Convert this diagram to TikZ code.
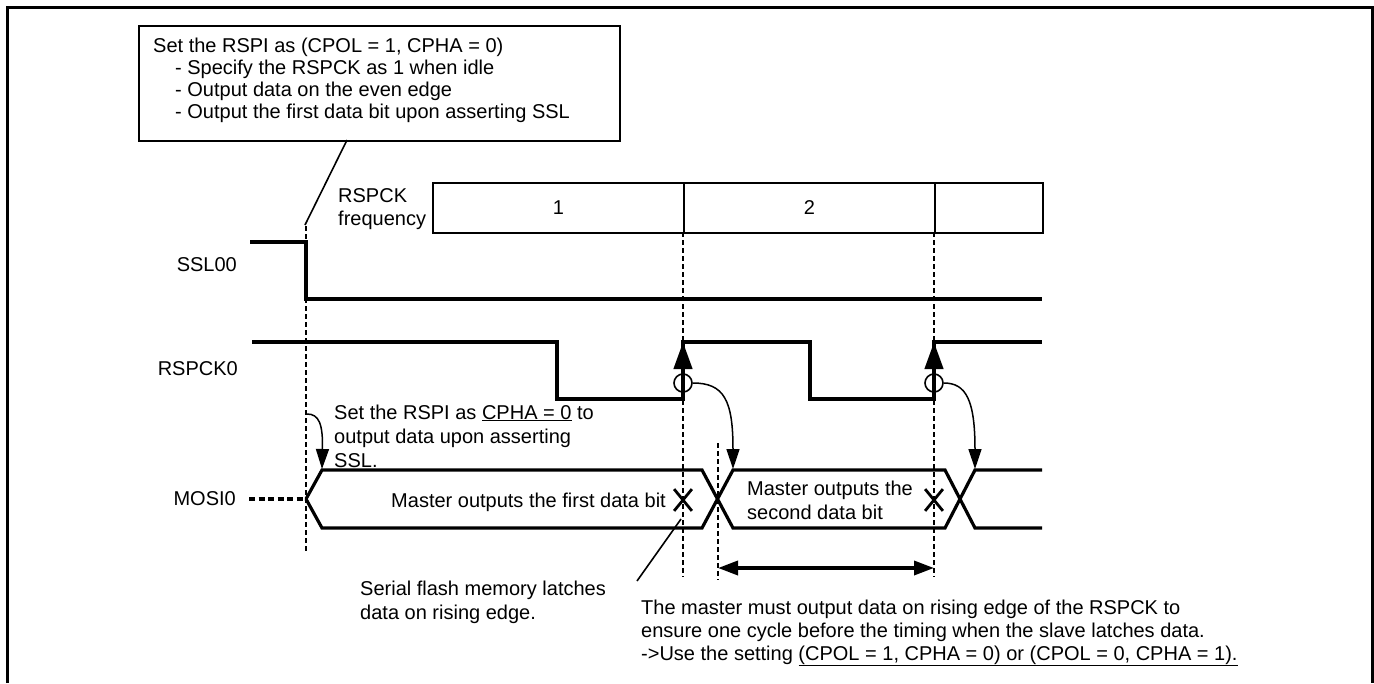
\documentclass[tikz,border=0pt]{standalone}
\usepackage{fontspec}
\setmainfont{Liberation Sans}
\usetikzlibrary{arrows.meta,shapes.misc}
\begin{document}
\begin{tikzpicture}[x=1pt,y=-1pt,
  txt/.style={inner sep=0pt, font=\fontsize{20pt}{24pt}\selectfont},
  sigline/.style={line width=3.2pt, line join=miter},
  fineline/.style={line width=1.6pt},
  guideline/.style={line width=1.5pt, dash pattern=on 5pt off 3pt},
  mosidash/.style={line width=3.2pt, dash pattern=on 6pt off 3.5pt},
  edgearrow/.style={line width=4.2pt, -{Triangle[length=27pt,width=18pt]}},
  callarrow/.style={line width=1.5pt, -{Triangle[length=20pt,width=13pt]}},
  spanarrow/.style={line width=3.5pt, {Triangle[length=20pt,width=14pt]}-{Triangle[length=20pt,width=14pt]}},
  xmark/.style={cross out, draw, line width=2.8pt, minimum width=15pt, minimum height=19pt, inner sep=0pt},
  ring/.style={circle, draw, line width=1.6pt, minimum size=18pt, inner sep=0pt},
  segbox/.style={draw, line width=1.7pt, minimum height=50pt, inner sep=0pt, anchor=north west, font=\fontsize{20pt}{24pt}\selectfont}
]
\useasboundingbox (0,0) rectangle (1374,683);

% outer frame (open at the bottom)
\draw[line width=3pt] (7,683) -- (7,7) -- (1372,7) -- (1372,683);

% configuration note
\node[draw, line width=1.7pt, minimum width=481pt, minimum height=115pt, anchor=north west, inner sep=0pt] (cfg) at (138,25) {};
\node[txt, anchor=base west] (cfgA) at (153,52) {Set the RSPI as (CPOL = 1, CPHA = 0)};
\node[txt, anchor=base west] (cfgB) at (175,74) {- Specify the RSPCK as 1 when idle};
\node[txt, anchor=base west] (cfgC) at (175,96) {- Output data on the even edge};
\node[txt, anchor=base west] (cfgD) at (175,118) {- Output the first data bit upon asserting SSL};
\coordinate (cfgfoot) at (347,140);
\coordinate (sslmark) at (305,225);
\draw[fineline] (cfgfoot) -- (sslmark);

% clock period boxes
\node[txt, anchor=base west] (fqa) at (338,202) {RSPCK};
\node[txt, anchor=base west] (fqb) at (338,225) {frequency};
\node[segbox, minimum width=251pt] (f1) at (432,182) {1};
\node[segbox, minimum width=251pt] (f2) at (683,182) {2};
\node[segbox, minimum width=108pt] (f3) at (934,182) {};

% signal names
\node[txt, anchor=base east] (lssl) at (237,271) {SSL00};
\node[txt, anchor=base east] (lsck) at (238,375) {RSPCK0};
\node[txt, anchor=base east] (lmosi) at (236,505) {MOSI0};

% timing guides
\coordinate (g0a) at (306,226); \coordinate (g0b) at (306,553);
\coordinate (g1a) at (683,232); \coordinate (g1b) at (683,577);
\coordinate (g2a) at (934,232); \coordinate (g2b) at (934,577);
\coordinate (g3a) at (718,443); \coordinate (g3b) at (718,580);
\draw[guideline] (g0a) -- (g0b);
\draw[guideline] (g1a) -- (g1b);
\draw[guideline] (g2a) -- (g2b);
\draw[guideline] (g3a) -- (g3b);

% SSL00
\draw[sigline] (250,242) -- (306,242) -- (306,299) -- (1042,299);

% RSPCK0
\draw[sigline] (252,342) -- (557,342) -- (557,399) -- (683,399) -- (683,342)
  -- (810,342) -- (810,399) -- (934,399) -- (934,342) -- (1042,342);
\coordinate (r1low) at (683,399); \coordinate (r1high) at (683,342);
\coordinate (r2low) at (934,399); \coordinate (r2high) at (934,342);
\draw[edgearrow] (r1low) -- (r1high);
\draw[edgearrow] (r2low) -- (r2high);
\node[ring] (o1) at (683,383) {};
\node[ring] (o2) at (934,383) {};

% MOSI0
\coordinate (mosiin) at (249,499);
\coordinate (mosistart) at (306,499);
\draw[mosidash] (mosiin) -- (mosistart);
\draw[sigline] (mosistart) -- (322,470) -- (702,470) -- (733,528) -- (945,528) -- (975,470) -- (1042,470);
\draw[sigline] (mosistart) -- (322,528) -- (702,528) -- (733,470) -- (945,470) -- (975,528) -- (1042,528);
\node[xmark] (x1) at (683,500) {};
\node[xmark] (x2) at (934,500) {};
\node[txt, anchor=base east] (d1t) at (666,507) {Master outputs the first data bit};
\node[txt, anchor=base west] (d2a) at (747,495) {Master outputs the};
\node[txt, anchor=base west] (d2b) at (747,519) {second data bit};

% edge-to-data arrows
\coordinate (d1top) at (322,469);
\coordinate (d2top) at (733,469);
\coordinate (d3top) at (975,469);
\coordinate (cphamark) at (307,414);
\draw[callarrow] (cphamark) .. controls (319,414) and (323,424) .. (d1top);
\draw[callarrow] (o1.east) .. controls (724,383) and (733,400) .. (d2top);
\draw[callarrow] (o2.east) .. controls (966,383) and (975,400) .. (d3top);

% one-cycle span
\coordinate (spanL) at (718,568);
\coordinate (spanR) at (934,568);
\draw[spanarrow] (spanL) -- (spanR);

% notes
\node[txt, anchor=base west] (n1a) at (334,419) {Set the RSPI as \underline{CPHA = 0} to};
\node[txt, anchor=base west] (n1b) at (334,443) {output data upon asserting};
\node[txt, anchor=base west] (n1c) at (334,467) {SSL.};

\node[txt, anchor=base west] (n2a) at (360,595) {Serial flash memory latches};
\node[txt, anchor=base west] (n2b) at (360,619) {data on rising edge.};
\coordinate (n2lead) at (637,581);
\coordinate (x1foot) at (681,519);
\draw[fineline] (n2lead) -- (x1foot);

\node[txt, anchor=base west] (n3a) at (641,614) {The master must output data on rising edge of the RSPCK to};
\node[txt, anchor=base west] (n3b) at (641,637) {ensure one cycle before the timing when the slave latches data.};
\node[txt, anchor=base west] (n3c) at (641,660) {->Use the setting \underline{(CPOL = 1, CPHA = 0) or (CPOL = 0, CPHA = 1).}};
\end{tikzpicture}
\end{document}
